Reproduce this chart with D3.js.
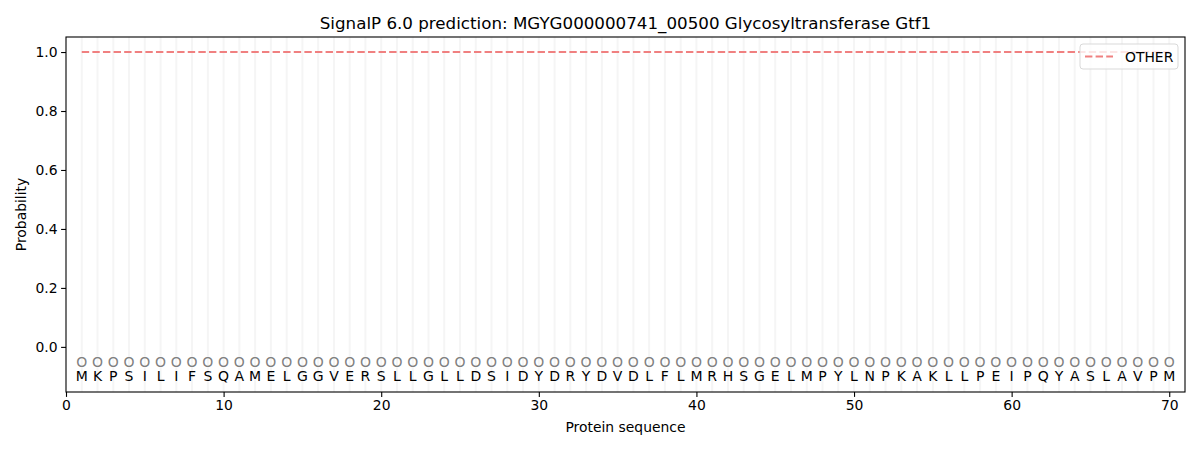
<!DOCTYPE html>
<html>
<head>
<meta charset="utf-8">
<script src="https://cdn.jsdelivr.net/npm/d3@7"></script>
<style>
  body { margin: 0; background: #fff; }
  text { font-family: "DejaVu Sans", sans-serif; }
</style>
</head>
<body>
<script>
(function() {
    "use strict";

    // residues of the sequence, position 1..70
    var residues = ["M","K","P","S","I","L","I","F","S","Q",
                    "A","M","E","L","G","G","V","E","R","S",
                    "L","L","G","L","L","D","S","I","D","Y",
                    "D","R","Y","D","V","D","L","F","L","M",
                    "R","H","S","G","E","L","M","P","Y","L",
                    "N","P","K","A","K","L","L","P","E","I",
                    "P","Q","Y","A","S","L","A","V","P","M"];
    // predicted label per residue
    var labels = ["O","O","O","O","O","O","O","O","O","O",
                  "O","O","O","O","O","O","O","O","O","O",
                  "O","O","O","O","O","O","O","O","O","O",
                  "O","O","O","O","O","O","O","O","O","O",
                  "O","O","O","O","O","O","O","O","O","O",
                  "O","O","O","O","O","O","O","O","O","O",
                  "O","O","O","O","O","O","O","O","O","O"];
    // probability of class OTHER
    var otherProb = [1,1,1,1,1,1,1,1,1,1,
                     1,1,1,1,1,1,1,1,1,1,
                     1,1,1,1,1,1,1,1,1,1,
                     1,1,1,1,1,1,1,1,1,1,
                     1,1,1,1,1,1,1,1,1,1,
                     1,1,1,1,1,1,1,1,1,1,
                     1,1,1,1,1,1,1,1,1,1];
    var xTicks = [0, 10, 20, 30, 40, 50, 60, 70];
    var yTicks = [0.0, 0.2, 0.4, 0.6, 0.8, 1.0];

    var WIDTH = 1200, HEIGHT = 450;
    var margin = { top: 37, right: 15, bottom: 58, left: 66 };
    var innerW = WIDTH - margin.left - margin.right;
    var innerH = HEIGHT - margin.top - margin.bottom;

    var svg = d3.select("body").append("svg")
        .attr("width", WIDTH)
        .attr("height", HEIGHT);

    var x = d3.scaleLinear().domain([0, 71]).range([0, innerW]);
    var y = d3.scaleLinear().domain([-0.153, 1.051]).range([innerH, 0]);

    var g = svg.append("g")
        .attr("transform", "translate(" + margin.left + "," + margin.top + ")");

    var positions = residues.map(function(d, i) { return i + 1; });

    //light vertical guide for every residue
    g.selectAll("line.grid")
        .data(positions)
        .enter()
        .append("line")
        .attr("class", "grid")
        .attr("x1", function(d) { return x(d); })
        .attr("x2", function(d) { return x(d); })
        .attr("y1", 0)
        .attr("y2", innerH)
        .attr("stroke", "#f5f5f5")
        .attr("stroke-width", 2);

    //OTHER probability line
    var line = d3.line()
        .x(function(d, i) { return x(i + 1); })
        .y(function(d) { return y(d); });
    g.append("path")
        .datum(otherProb)
        .attr("d", line)
        .attr("fill", "none")
        .attr("stroke", "#f08080")
        .attr("stroke-width", 2)
        .attr("stroke-dasharray", "7.4,3.2");

    //predicted labels
    g.selectAll("text.lab")
        .data(labels)
        .enter()
        .append("text")
        .attr("class", "lab")
        .attr("x", function(d, i) { return x(i + 1); })
        .attr("y", y(-0.05))
        .attr("dy", "0.36em")
        .attr("text-anchor", "middle")
        .attr("font-size", 14)
        .attr("fill", "#808080")
        .text(function(d) { return d; });

    //residue letters
    g.selectAll("text.res")
        .data(residues)
        .enter()
        .append("text")
        .attr("class", "res")
        .attr("x", function(d, i) { return x(i + 1); })
        .attr("y", y(-0.1))
        .attr("dy", "0.36em")
        .attr("text-anchor", "middle")
        .attr("font-size", 14)
        .attr("fill", "#000")
        .text(function(d) { return d; });

    //axes
    var xAxis = d3.axisBottom(x).tickValues(xTicks).tickSize(4.9).tickPadding(3.5)
        .tickFormat(d3.format("d"));
    var yAxis = d3.axisLeft(y).tickValues(yTicks).tickSize(4.9).tickPadding(3.5)
        .tickFormat(d3.format(".1f"));

    var gx = g.append("g")
        .attr("transform", "translate(0," + innerH + ")")
        .call(xAxis);
    var gy = g.append("g").call(yAxis);
    [gx, gy].forEach(function(a) {
        a.select(".domain").remove();
        a.selectAll("line").attr("stroke", "#000").attr("stroke-width", 1.1);
        a.selectAll("text").attr("font-size", 13.9).attr("fill", "#000")
            .style("font-family", "DejaVu Sans, sans-serif");
    });

    //frame
    g.append("rect")
        .attr("width", innerW)
        .attr("height", innerH)
        .attr("fill", "none")
        .attr("stroke", "#000")
        .attr("stroke-width", 1.1);

    //axis titles and title
    svg.append("text")
        .attr("x", margin.left + innerW / 2)
        .attr("y", 432)
        .attr("text-anchor", "middle")
        .attr("font-size", 13.9)
        .text("Protein sequence");
    svg.append("text")
        .attr("transform", "translate(26," + (margin.top + innerH / 2) + ") rotate(-90)")
        .attr("text-anchor", "middle")
        .attr("font-size", 13.9)
        .text("Probability");
    svg.append("text")
        .attr("x", margin.left + innerW / 2)
        .attr("y", 29)
        .attr("text-anchor", "middle")
        .attr("font-size", 16.7)
        .text("SignalP 6.0 prediction: MGYG000000741_00500 Glycosyltransferase Gtf1");

    //legend
    var lg = svg.append("g").attr("transform", "translate(1080,44)");
    lg.append("rect")
        .attr("width", 98)
        .attr("height", 25)
        .attr("rx", 3)
        .attr("fill", "#fff")
        .attr("fill-opacity", 0.8)
        .attr("stroke", "#d9d9d9");
    lg.append("line")
        .attr("x1", 5).attr("x2", 33)
        .attr("y1", 12.5).attr("y2", 12.5)
        .attr("stroke", "#f08080")
        .attr("stroke-width", 2)
        .attr("stroke-dasharray", "7.4,3.2");
    lg.append("text")
        .attr("x", 45)
        .attr("y", 12.5)
        .attr("dy", "0.36em")
        .attr("font-size", 13.9)
        .text("OTHER");
}());
</script>
</body>
</html>
